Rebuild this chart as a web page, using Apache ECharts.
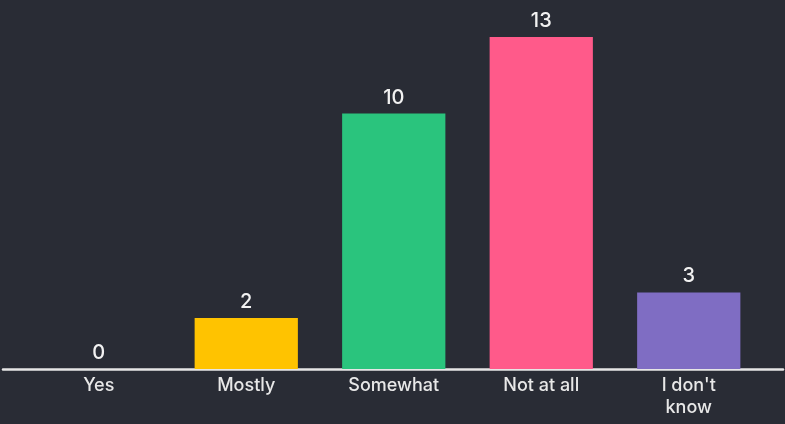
<!DOCTYPE html>
<html><head><meta charset="utf-8">
<script src="https://cdn.jsdelivr.net/npm/echarts@6/dist/echarts.min.js"></script>
<style>html,body{margin:0;padding:0;background:#292c35;}#c{width:785px;height:424px;}</style>
</head><body><div id="c"></div>
<script>
const categories = ["Yes", "Mostly", "Somewhat", "Not at all", "I don't know"];
const values = [0, 2, 10, 13, 3];
const colors = ["#9aa0a6", "#ffc300", "#2ac47d", "#ff5a8a", "#7f6dc3"];

const chart = echarts.init(document.getElementById('c'));
chart.setOption({
  backgroundColor: '#292c35',
  animation: false,
  grid: [
    {left: 25, right: 22.5, top: 37, bottom: 55},
    {left: 3, right: 2, top: 37, bottom: 55}
  ],
  xAxis: [
    {
      type: 'category', data: categories, gridIndex: 0,
      axisLine: {show: false}, axisTick: {show: false},
      axisLabel: {color: '#e8e8e8', fontSize: 18, fontFamily: 'Inter', fontWeight: 500, margin: 6,
        lineHeight: 22, interval: 0,
        formatter: v => v.replace("I don't ", "I don't\n")}
    },
    {
      type: 'value', gridIndex: 1, min: 0, max: 1,
      axisLine: {show: true, lineStyle: {color: '#e6e6e6', width: 2.5}},
      axisTick: {show: false}, axisLabel: {show: false}, splitLine: {show: false}
    }
  ],
  yAxis: [
    {type: 'value', gridIndex: 0, min: 0, max: 13, show: false},
    {type: 'value', gridIndex: 1, min: 0, max: 1, show: false}
  ],
  series: [{
    type: 'bar', xAxisIndex: 0, yAxisIndex: 0,
    barWidth: '70%',
    data: values.map((v, i) => ({value: v, itemStyle: {color: colors[i]}})),
    label: {show: true, position: 'top', distance: 6, color: '#f2f2f2', fontSize: 20,
      fontFamily: 'Inter', fontWeight: 500}
  }]
});
</script></body></html>
